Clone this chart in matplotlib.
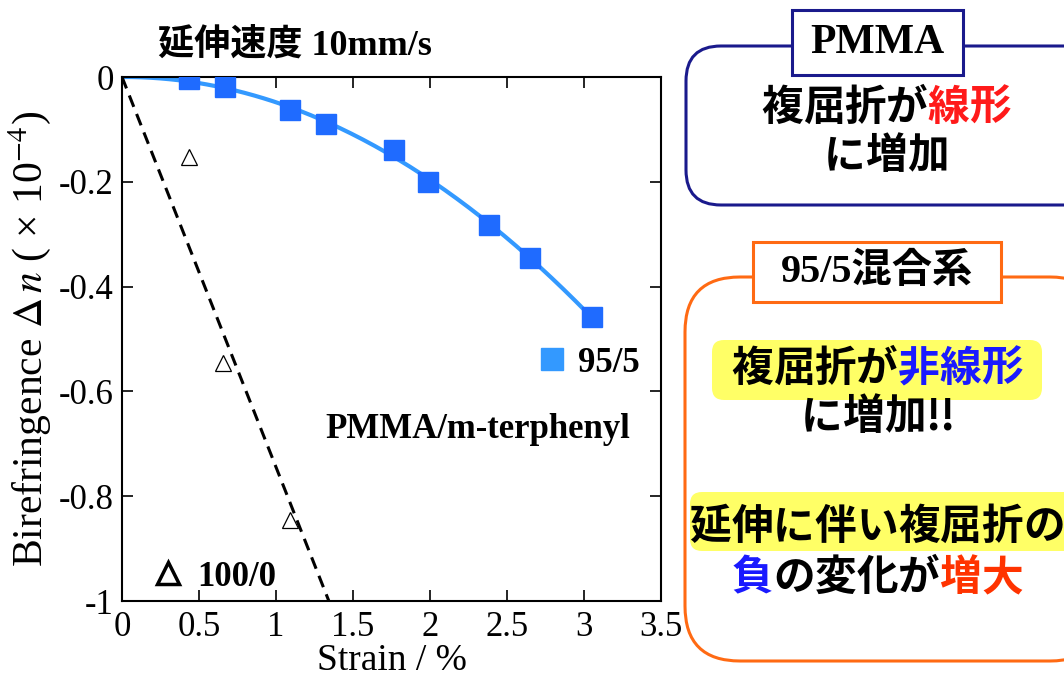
import matplotlib.pyplot as plt
import numpy as np
from matplotlib.patches import FancyBboxPatch, Rectangle
from matplotlib.lines import Line2D

plt.rcParams['font.family'] = ['Liberation Serif', 'Noto Sans CJK JP']
plt.rcParams['mathtext.fontset'] = 'stix'
plt.rcParams['axes.unicode_minus'] = False

# 95/5 blend PMMA/m-terphenyl (squares)
blend_strain = [0.435, 0.666, 1.09, 1.325, 1.766, 1.99, 2.38, 2.65, 3.05]
blend_dn = [-0.004, -0.019, -0.063, -0.090, -0.139, -0.200, -0.282, -0.345, -0.458]
# 100/0 pure PMMA (triangles)
pmma_strain = [0.435, 0.656, 1.09]
pmma_dn = [-0.153, -0.546, -0.845]

xticks = [0, 0.5, 1, 1.5, 2, 2.5, 3, 3.5]
xticklabels = ['0', '0.5', '1', '1.5', '2', '2.5', '3', '3.5']
yticks = [0, -0.2, -0.4, -0.6, -0.8, -1]
yticklabels = ['0', '-0.2', '-0.4', '-0.6', '-0.8', '-1']

# fits: quadratic through origin for the blend, straight line through origin for PMMA
bx = np.array(blend_strain)
by = np.array(blend_dn)
coef = np.linalg.lstsq(np.column_stack([bx**2, bx]), by, rcond=None)[0]
fit_x = np.linspace(0, bx.max(), 200)
fit_y = coef[0]*fit_x**2 + coef[1]*fit_x

px = np.array(pmma_strain)
py = np.array(pmma_dn)
slope = np.sum(px*py)/np.sum(px*px)
line_x = np.array([0, 1.6])
line_y = slope*line_x

fig = plt.figure(figsize=(10.64, 6.81), dpi=100)
ax = fig.add_axes([122/1064, 1-601/681, (661-122)/1064, (601-77)/681])
ax.plot(fit_x, fit_y, color='#3399ff', lw=3, zorder=2)
ax.plot(bx, by, 's', color='#1f6bff', ms=14, zorder=3)
ax.plot(line_x, line_y, color='black', lw=2.2, ls=(0, (4, 2.5)), zorder=2)
ax.plot(px, py, '^', mfc='white', mec='black', ms=11, mew=0.9, zorder=3)
ax.set_xlim(0, 3.5)
ax.set_ylim(-1, 0)
ax.set_xticks(xticks)
ax.set_xticklabels(xticklabels)
ax.set_yticks(yticks)
ax.set_yticklabels(yticklabels)
ax.tick_params(direction='in', top=True, right=True, length=8, width=1.2, labelsize=25)
ax.tick_params(axis='x', pad=7)
ax.tick_params(axis='y', pad=6)
for s in ax.spines.values():
    s.set_linewidth(1.5)
ax.set_xlabel('Strain / %', fontsize=27, labelpad=0)
ax.set_ylabel(r'Birefringence $\Delta\,n$ ( × 10$^{-4}$)', fontsize=30, labelpad=4)

# legends
h1 = Line2D([], [], marker='s', ls='none', color='#3399ff', ms=16)
leg1 = ax.legend([h1], ['95/5'], loc='center left', bbox_to_anchor=(538/1064, 1-363/681),
                 bbox_transform=fig.transFigure, frameon=False, borderpad=0, borderaxespad=0,
                 handlelength=0.8, handletextpad=0.35, prop={'weight': 'bold', 'size': 25})
ax.add_artist(leg1)
h2 = Line2D([], [], marker='^', ls='none', mfc='white', mec='black', mew=2.5, ms=16)
ax.legend([h2], ['100/0'], loc='center left', bbox_to_anchor=(154/1064, 1-577/681),
          bbox_transform=fig.transFigure, frameon=False, borderpad=0, borderaxespad=0,
          handlelength=0.8, handletextpad=0.45, prop={'weight': 'bold', 'size': 25})

# overlay in pixel coordinates for annotations and the right-hand boxes
ov = fig.add_axes([0, 0, 1, 1])
ov.set_xlim(0, 1064)
ov.set_ylim(681, 0)
ov.set_axis_off()

ov.text(295, 45, '延伸速度 10mm/s', ha='center', va='center', fontsize=26, fontweight='bold')
ov.text(478, 430, 'PMMA/m-terphenyl', ha='center', va='center', fontsize=25, fontweight='bold')

navy = '#1a1a8c'
orange = '#ff6a13'
yellow = '#ffff66'

ov.add_patch(FancyBboxPatch((686, 46), 420, 159, boxstyle='round,pad=0,rounding_size=35',
                            ec=navy, fc='white', lw=2.2))
ov.add_patch(Rectangle((792, 10), 171, 65, ec=navy, fc='white', lw=2.2))
ov.text(877, 43, 'PMMA', ha='center', va='center', fontsize=30, fontweight='bold')

ov.add_patch(FancyBboxPatch((685, 277), 420, 384, boxstyle='round,pad=0,rounding_size=55',
                            ec=orange, fc='white', lw=2.2))
ov.add_patch(Rectangle((753, 242), 248, 60, ec=orange, fc='white', lw=2.2))
ov.text(877, 272, '95/5混合系', ha='center', va='center', fontsize=29, fontweight='bold')

ov.add_patch(FancyBboxPatch((712, 340), 330, 60, boxstyle='round,pad=0,rounding_size=12',
                            ec='none', fc=yellow))
ov.add_patch(FancyBboxPatch((690, 492), 400, 59, boxstyle='round,pad=0,rounding_size=12',
                            ec='none', fc=yellow))


def cjk_line(x, y, parts, size=30):
    em = size*100/72
    def adv(ch):
        return em*0.33 if ord(ch) < 128 else em
    total = sum(adv(ch) for t, c in parts for ch in t)
    left = x - total/2
    for t, c in parts:
        for ch in t:
            a = adv(ch)
            ov.text(left + a/2, y, ch, color=c, ha='center', va='center', fontsize=size,
                    fontweight='bold', family='Noto Sans CJK JP')
            left += a


cjk_line(886, 108, [('複屈折が', 'black'), ('線形', '#ff1a1a')])
cjk_line(886, 156, [('に増加', 'black')])
cjk_line(877, 369, [('複屈折が', 'black'), ('非線形', '#1a1aff')])
cjk_line(877, 417, [('に増加!!', 'black')])
cjk_line(877, 527, [('延伸に伴い複屈折の', 'black')])
cjk_line(877, 578, [('負', '#1a1aff'), ('の変化が', 'black'), ('増大', '#ff3300')])

fig.savefig('out.png', dpi=100)
